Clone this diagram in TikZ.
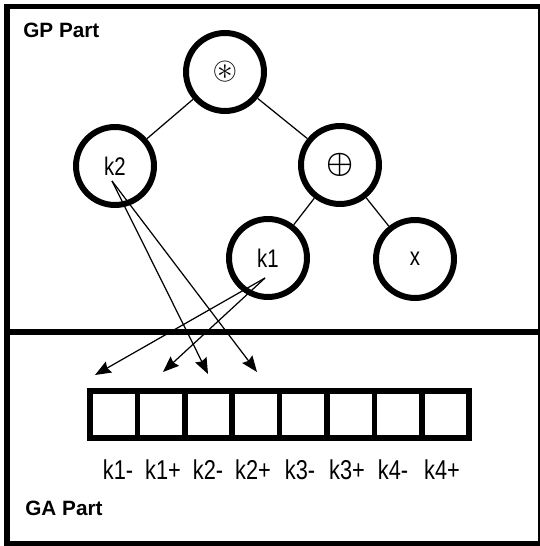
\documentclass[tikz,border=0pt]{standalone}
\usepackage{amssymb}
\usepackage{amsmath}
\usepackage{graphicx}
\usepackage{fontspec}
\setmainfont{Liberation Sans}
\usetikzlibrary{arrows.meta}

\newcommand{\slimtext}[1]{\scalebox{0.8}[1]{#1}}

\tikzset{frameline/.style={line width=3pt}}
\tikzset{gene/.style={circle,draw,line width=3.4pt,minimum size=1.56cm,inner sep=0pt,font=\fontsize{14.5}{17}\selectfont}}
\tikzset{cell/.style={draw,line width=3.2pt,minimum width=0.948cm,minimum height=0.94cm,inner sep=0pt}}
\tikzset{branch/.style={line width=0.7pt}}
\tikzset{pointer/.style={line width=0.7pt,-{Stealth[length=0.32cm,width=0.25cm,inset=0.04cm]}}}
\tikzset{partlabel/.style={font=\fontsize{11.8}{14}\selectfont\bfseries,anchor=base west,inner sep=0pt}}
\tikzset{locus/.style={font=\fontsize{15.5}{18}\selectfont,anchor=base,inner sep=0pt}}

\begin{document}
\begin{tikzpicture}[x=0.02cm,y=-0.02cm]
                  \useasboundingbox (0,0) rectangle (539,546);
                  \draw[frameline] (7,6.5) rectangle (541,543.5);
                  \draw[frameline] (7,332) -- (541,332);
                  \node[partlabel] (gp) at (23,38) {GP Part};
                  \node[partlabel] (ga) at (25,515) {GA Part};
                  % tree
                  \node[gene] (mul) at (225,72) {\fontsize{18}{18}\selectfont$\boldsymbol{\circledast}$};
                  \node[gene] (k2) at (115,166) {\slimtext{k2}};
                  \node[gene] (add) at (340,165) {\fontsize{18}{18}\selectfont$\boldsymbol{\oplus}$};
                  \node[gene] (k1) at (268,258) {\slimtext{k1}};
                  \node[gene] (xvar) at (415,259) {\slimtext{x}};
                  \draw[branch] (mul) -- (k2);
                  \draw[branch] (mul) -- (add);
                  \draw[branch] (add) -- (k1);
                  \draw[branch] (add) -- (xvar);
                  % chromosome
                  \foreach \i in {1,...,8}
                      \node[cell] (c\i) at ({90+47.4*(\i-0.5)},414.5) {};
                  \foreach \name/\xx [count=\i] in {k1-/118,k1+/163,k2-/208,k2+/253,k3-/300,k3+/347,k4-/393,k4+/442}
                      \node[locus] (l\i) at (\xx,479) {\slimtext{\name}};
                  % links
                  \coordinate (k2out) at (112,181);
                  \coordinate (k1out) at (265,278);
                  \coordinate (t1) at (95,375);
                  \coordinate (t2) at (163,372);
                  \coordinate (t3) at (208,374);
                  \coordinate (t4) at (257,372);
                  \draw[pointer] (k1out) -- (t1);
                  \draw[pointer] (k1out) -- (t2);
                  \draw[pointer] (k2out) -- (t3);
                  \draw[pointer] (k2out) -- (t4);
              \end{tikzpicture}
\end{document}
